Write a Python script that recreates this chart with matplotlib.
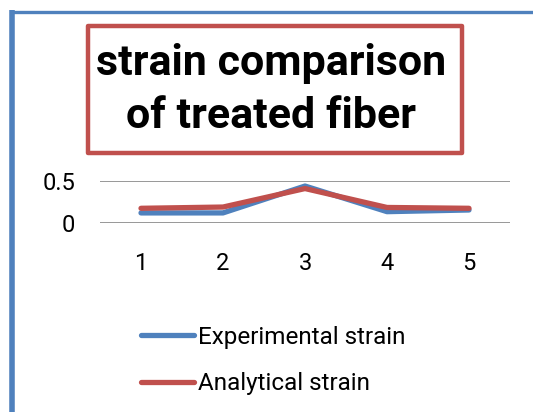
import matplotlib.pyplot as plt
from matplotlib.patches import Rectangle
from matplotlib.lines import Line2D

plt.rcParams['font.family'] = ['Roboto', 'DejaVu Sans']

# data
categories = [1, 2, 3, 4, 5]
experimental = [0.12, 0.12, 0.44, 0.135, 0.155]
analytical = [0.175, 0.19, 0.41, 0.185, 0.175]
y_ticks = [0, 0.5]
y_tick_labels = ['0', '0.5']

W, H = 533, 412
blue = '#4F81BD'
red = '#C0504D'

fig = plt.figure(figsize=(W / 100, H / 100), dpi=100)

# outer chart frame (left and top edges only visible)
fig.add_artist(Line2D([12 / W, 12 / W], [0, 1 - 10 / H], transform=fig.transFigure,
                      color=blue, lw=4, solid_capstyle='butt'))
fig.add_artist(Line2D([10 / W, 1], [1 - 11.5 / H, 1 - 11.5 / H], transform=fig.transFigure,
                      color=blue, lw=2.4, solid_capstyle='butt'))

# title box
fig.add_artist(Rectangle((88 / W, 1 - 153 / H), (462 - 88) / W, (153 - 26) / H,
                         transform=fig.transFigure, facecolor='white',
                         edgecolor=red, lw=3.2, joinstyle='round'))
fig.text(271 / W, 1 - 64 / H, 'strain comparison', ha='center', va='center',
         fontsize=31, fontweight='bold')
fig.text(271 / W, 1 - 116 / H, 'of treated fiber', ha='center', va='center',
         fontsize=31, fontweight='bold')

# plot area
ax = fig.add_axes([100 / W, (H - 223) / H, 410 / W, 42 / H])
ax.plot(categories, experimental, color=blue, lw=3.8, solid_capstyle='round',
        solid_joinstyle='round', label='Experimental strain')
ax.plot(categories, analytical, color=red, lw=3.8, solid_capstyle='round',
        solid_joinstyle='round', label='Analytical strain')
ax.set_xlim(0.5, 5.5)
ax.set_ylim(0, 0.5)
ax.set_yticks(y_ticks)
ax.set_yticklabels(y_tick_labels)
ax.set_xticks(categories)
ax.yaxis.grid(True, color='#868686', lw=1.2)
ax.set_axisbelow(True)
for s in ax.spines.values():
    s.set_visible(False)
ax.tick_params(axis='both', length=0, labelsize=17)
ax.tick_params(axis='y', pad=18)
ax.tick_params(axis='x', pad=21)

# legend, stacked below the plot
handles, labels = ax.get_legend_handles_labels()
leg = fig.legend(handles, labels, loc='upper left', bbox_to_anchor=(119 / W, 1 - 304 / H),
                 frameon=False, fontsize=17.5, handlelength=2.2, handletextpad=0.15,
                 labelspacing=0.97)

fig.savefig('out.png', dpi=100)
